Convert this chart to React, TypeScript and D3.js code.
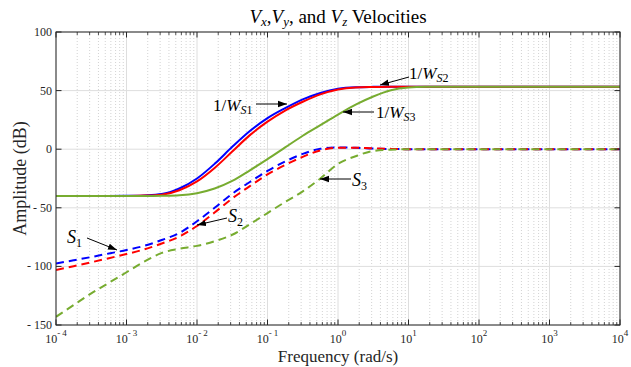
import * as d3 from "d3";

// ── Data (dB) ─────────────────────────────────────────────

const FREQ = [
  1e-4, 1.778e-4, 3.162e-4, 5.623e-4, 1e-3, 1.778e-3, 3.162e-3, 5.623e-3,
  1e-2, 1.778e-2, 3.162e-2, 5.623e-2, 0.1, 0.1778, 0.3162, 0.5623, 1, 1.778,
  3.162, 5.623, 10, 17.78, 31.62, 100, 1000, 10000,
];

const INV_WS1 = [
  -40, -40, -40, -39.9, -39.8, -39.4, -38.3, -33.5, -25, -12.5, 2, 15.5, 26.5,
  35, 42.5, 48, 51.6, 52.9, 53.2, 53.3, 53.3, 53.3, 53.3, 53.3, 53.3, 53.3,
];
const INV_WS2 = [
  -40, -40, -40, -40, -39.9, -39.6, -38.8, -35, -27.5, -16, -2, 12, 23.5, 33,
  40.5, 46.8, 51, 52.7, 53.1, 53.3, 53.3, 53.3, 53.3, 53.3, 53.3, 53.3,
];
const INV_WS3 = [
  -40, -40, -40, -40, -40, -40, -39.8, -39.3, -37.5, -33.5, -27, -18, -8.5,
  1.5, 11.5, 20.5, 29.5, 38, 45, 50.3, 52.6, 53.2, 53.3, 53.3, 53.3, 53.3,
];
const S1 = [
  -97.5, -94.8, -92, -89, -86, -82.5, -77.5, -71.5, -61.5, -50, -38, -28,
  -18.5, -10.5, -4, 0.3, 1.5, 1.2, 0.5, 0.2, 0, 0, 0, 0, 0, 0,
];
const S2 = [
  -103, -99.8, -96.5, -93, -89.5, -85.5, -80.5, -74.5, -65.5, -54, -42, -31.5,
  -21.5, -13.5, -6.5, -1, 1.2, 1.3, 0.7, 0.3, 0, 0, 0, 0, 0, 0,
];
const S3 = [
  -143, -133, -123, -114, -105, -96, -88.5, -85, -82.5, -78.5, -73, -64,
  -54.5, -45, -36, -25, -12.5, -6, -1.5, -0.4, 0, 0, 0, 0, 0, 0,
];

const Y_TICKS = [100, 50, 0, -50, -100, -150];
const X_EXPONENTS = [-4, -3, -2, -1, 0, 1, 2, 3, 4];

// ── Layout ───────────────────────────────────────────────

const W = 631;
const H = 367;
const LEFT = 56;
const RIGHT = 620;
const TOP = 32;
const BOTTOM = 325;

const BLUE = "#0000ff";
const RED = "#ff0000";
const GREEN = "#77ac30";
const AXIS = "#262626";
const FONT = "Liberation Serif, Times New Roman, DejaVu Serif, serif";

const x = d3.scaleLog().domain([1e-4, 1e4]).range([LEFT, RIGHT]);
const y = d3.scaleLinear().domain([-150, 100]).range([BOTTOM, TOP]);

const line = d3
  .line<number>()
  .x((_, i) => x(FREQ[i]))
  .y((d) => y(d))
  .curve(d3.curveMonotoneX);

const series = [
  { values: INV_WS1, color: BLUE, dash: undefined },
  { values: INV_WS2, color: RED, dash: undefined },
  { values: INV_WS3, color: GREEN, dash: undefined },
  { values: S1, color: BLUE, dash: "8 5" },
  { values: S2, color: RED, dash: "8 5" },
  { values: S3, color: GREEN, dash: "8 5" },
];

const minorFreqs: number[] = [];
for (let e = -4; e < 4; e++) {
  for (let k = 2; k <= 9; k++) minorFreqs.push(k * Math.pow(10, e));
}

function Arrow({ x1, y1, x2, y2 }: { x1: number; y1: number; x2: number; y2: number }) {
  return (
    <line
      x1={x1}
      y1={y1}
      x2={x2}
      y2={y2}
      stroke="#000"
      strokeWidth={1}
      markerEnd="url(#ah)"
    />
  );
}

function InvLabel({ px, py, sub }: { px: number; py: number; sub: string }) {
  return (
    <text x={px} y={py} style={{ fontFamily: FONT }} fontSize={17} fill="#000">
      <tspan>1/</tspan>
      <tspan fontStyle="italic">W</tspan>
      <tspan fontStyle="italic" fontSize={12} dy={3}>
        S
      </tspan>
      <tspan fontSize={12}>{sub}</tspan>
    </text>
  );
}

function SLabel({ px, py, sub }: { px: number; py: number; sub: string }) {
  return (
    <text x={px} y={py} style={{ fontFamily: FONT }} fontSize={18} fill="#000">
      <tspan fontStyle="italic">S</tspan>
      <tspan fontSize={12} dy={4}>
        {sub}
      </tspan>
    </text>
  );
}

export default function App() {
  return (
    <svg
      width={W}
      height={H}
      style={{ position: "absolute", left: 0, top: 0, background: "#fff" }}
    >
      <defs>
        <clipPath id="plot">
          <rect x={LEFT} y={TOP} width={RIGHT - LEFT} height={BOTTOM - TOP} />
        </clipPath>
        <marker
          id="ah"
          viewBox="0 0 10 10"
          refX={10}
          refY={5}
          markerWidth={9}
          markerHeight={9}
          markerUnits="userSpaceOnUse"
          orient="auto"
        >
          <path d="M0,1.5 L10,5 L0,8.5 z" fill="#000" />
        </marker>
      </defs>

      {/* grid */}
      {minorFreqs.map((f) => (
        <line
          key={`mg${f}`}
          x1={x(f)}
          x2={x(f)}
          y1={TOP}
          y2={BOTTOM}
          stroke="#c8c8c8"
          strokeWidth={0.8}
          strokeDasharray="1 2"
        />
      ))}
      {X_EXPONENTS.map((e) => (
        <line
          key={`gx${e}`}
          x1={x(Math.pow(10, e))}
          x2={x(Math.pow(10, e))}
          y1={TOP}
          y2={BOTTOM}
          stroke="#dedede"
        />
      ))}
      {Y_TICKS.map((t) => (
        <line key={`gy${t}`} x1={LEFT} x2={RIGHT} y1={y(t)} y2={y(t)} stroke="#dedede" />
      ))}

      {/* curves */}
      <g clipPath="url(#plot)">
        {series.map((s, i) => (
          <path
            key={i}
            d={line(s.values) ?? ""}
            fill="none"
            stroke={s.color}
            strokeWidth={2}
            strokeDasharray={s.dash}
          />
        ))}
      </g>

      {/* axes box and ticks */}
      <rect
        x={LEFT}
        y={TOP}
        width={RIGHT - LEFT}
        height={BOTTOM - TOP}
        fill="none"
        stroke={AXIS}
        strokeWidth={1}
      />
      {minorFreqs.map((f) => (
        <g key={`mt${f}`} stroke={AXIS} strokeWidth={0.8}>
          <line x1={x(f)} x2={x(f)} y1={BOTTOM} y2={BOTTOM - 3} />
          <line x1={x(f)} x2={x(f)} y1={TOP} y2={TOP + 3} />
        </g>
      ))}
      {X_EXPONENTS.map((e) => {
        const px = x(Math.pow(10, e));
        return (
          <g key={`xt${e}`}>
            <line x1={px} x2={px} y1={BOTTOM} y2={BOTTOM - 5.5} stroke={AXIS} />
            <line x1={px} x2={px} y1={TOP} y2={TOP + 5.5} stroke={AXIS} />
            <text
              x={px}
              y={343}
              textAnchor="middle"
              style={{ fontFamily: FONT }}
              fontSize={12}
              fill={AXIS}
            >
              <tspan>10</tspan>
              <tspan fontSize={9} dy={-7}>
                {e < 0 ? `- ${-e}` : `${e}`}
              </tspan>
            </text>
          </g>
        );
      })}
      {Y_TICKS.map((t) => (
        <g key={`yt${t}`}>
          <line x1={LEFT} x2={LEFT + 5.5} y1={y(t)} y2={y(t)} stroke={AXIS} />
          <line x1={RIGHT} x2={RIGHT - 5.5} y1={y(t)} y2={y(t)} stroke={AXIS} />
          <text
            x={LEFT - 4}
            y={y(t) + 4}
            textAnchor="end"
            style={{ fontFamily: FONT }}
            fontSize={12}
            fill={AXIS}
          >
            {t < 0 ? `- ${-t}` : `${t}`}
          </text>
        </g>
      ))}

      {/* titles */}
      <text
        x={338}
        y={23}
        textAnchor="middle"
        style={{ fontFamily: FONT }}
        fontSize={19}
        fill="#000"
      >
        <tspan fontStyle="italic">V</tspan>
        <tspan fontStyle="italic" fontSize={13} dy={3}>x</tspan>
        <tspan dy={-3}>,</tspan>
        <tspan fontStyle="italic">V</tspan>
        <tspan fontStyle="italic" fontSize={13} dy={3}>y</tspan>
        <tspan dy={-3}>, and </tspan>
        <tspan fontStyle="italic">V</tspan>
        <tspan fontStyle="italic" fontSize={13} dy={3}>z</tspan>
        <tspan dy={-3}> Velocities</tspan>
      </text>
      <text
        x={338}
        y={362}
        textAnchor="middle"
        style={{ fontFamily: FONT }}
        fontSize={17}
        fill={AXIS}
      >
        Frequency (rad/s)
      </text>
      <text
        transform={`translate(26,${(TOP + BOTTOM) / 2}) rotate(-90)`}
        textAnchor="middle"
        style={{ fontFamily: FONT }}
        fontSize={18}
        fill={AXIS}
      >
        Amplitude (dB)
      </text>

      {/* annotations */}
      <InvLabel px={213} py={111} sub="1" />
      <Arrow x1={256} y1={104} x2={287} y2={104} />
      <InvLabel px={409} py={79} sub="2" />
      <Arrow x1={409} y1={77} x2={380} y2={85} />
      <InvLabel px={376} py={118} sub="3" />
      <Arrow x1={374} y1={112} x2={343} y2={112} />
      <SLabel px={67} py={243} sub="1" />
      <Arrow x1={87} y1={238} x2={117} y2={250} />
      <SLabel px={228} py={222} sub="2" />
      <Arrow x1={227} y1={218} x2={197} y2={225} />
      <SLabel px={352} py={186} sub="3" />
      <Arrow x1={351} y1={179} x2={320} y2={179} />
    </svg>
  );
}
